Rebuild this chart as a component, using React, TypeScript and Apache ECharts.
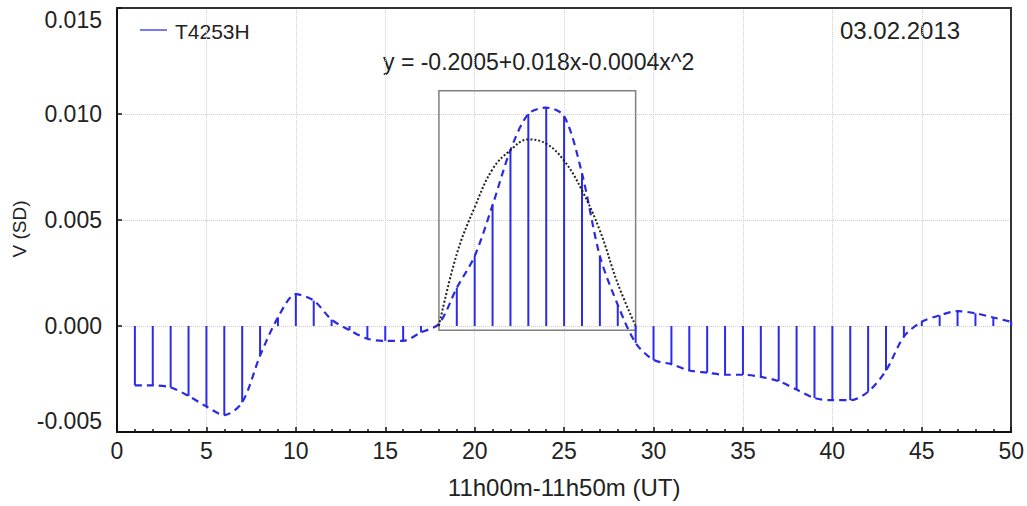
import React, { useEffect, useRef } from "react";
import * as echarts from "echarts";

const xValues: number[] = Array.from({ length: 50 }, (_, i) => i + 1);
const smoothed: number[] = [
  -0.0028, -0.0028, -0.0029, -0.0033, -0.0038, -0.0042, -0.0036, -0.0014, 0.0004, 0.0015,
  0.0012, 0.0003, -0.0002, -0.0006, -0.0007, -0.0007, -0.0003, 0.0001, 0.0018, 0.0033,
  0.0057, 0.0083, 0.0100, 0.0103, 0.0099, 0.0072, 0.0033, 0.0010, -0.0008, -0.0016,
  -0.0018, -0.0021, -0.0022, -0.0023, -0.0023, -0.0024, -0.0026, -0.0030, -0.0034, -0.0035,
  -0.0035, -0.0031, -0.0021, -0.0005, 0.0002, 0.0005, 0.0007, 0.0006, 0.0004, 0.0002,
];
const fitX: number[] = [18, 19, 20, 21, 22, 23, 24, 25, 26, 27, 28, 29];
const fitY: number[] = [0.0, 0.0034, 0.0056, 0.0074, 0.0083, 0.0088, 0.0086, 0.0078, 0.0064, 0.0045, 0.002, 0.0];
const boxX: number[] = [18, 29];
const boxY: number[] = [-0.0002, 0.0111];
const seriesName = "T4253H";
const dateLabel = "03.02.2013";
const equation = "y = -0.2005+0.018x-0.0004x^2";
const xTitle = "11h00m-11h50m (UT)";
const yTitle = "V (SD)";

const FONT = "Liberation Sans, Arial, sans-serif";

export default function App() {
  const ref = useRef<HTMLDivElement>(null);
  useEffect(() => {
    if (!ref.current) return;
    const chart = echarts.init(ref.current, undefined, { renderer: "svg" });
    const pts = xValues.map((x, i) => [x, smoothed[i]]);
    const fit = fitX.map((x, i) => [x, fitY[i]]);
    chart.setOption({
      animation: false,
      backgroundColor: "#fff",
      textStyle: { fontFamily: FONT },
      grid: { left: 117, right: 15, top: 8, bottom: 74 },
      xAxis: [
        {
          type: "value",
          min: 0,
          max: 50,
          interval: 5,
          name: xTitle,
          nameLocation: "middle",
          nameGap: 43,
          nameTextStyle: { fontSize: 24, color: "#222", fontFamily: FONT },
          axisLine: { show: true, onZero: false, lineStyle: { color: "#111", width: 2 } },
          axisTick: { show: true, inside: true, length: 5, lineStyle: { color: "#111", width: 1.5 } },
          minorTick: { show: true, splitNumber: 5, length: 3, lineStyle: { color: "#111", width: 1.5 } },
          axisLabel: { fontSize: 23, color: "#222", margin: 7, fontFamily: FONT },
          splitLine: { show: true, lineStyle: { color: "#cfcfcf", type: "dotted", width: 1 } },
        },
        {
          type: "value",
          position: "top",
          min: 0,
          max: 50,
          interval: 5,
          axisLine: { show: true, onZero: false, lineStyle: { color: "#333", width: 2 } },
          axisTick: { show: false },
          axisLabel: { show: false },
          splitLine: { show: false },
        },
      ],
      yAxis: [
        {
          type: "value",
          min: -0.005,
          max: 0.015,
          interval: 0.005,
          axisLine: { show: true, onZero: false, lineStyle: { color: "#111", width: 2 } },
          axisTick: { show: true, inside: true, length: 5, lineStyle: { color: "#111", width: 1.5 } },
          axisLabel: {
            fontSize: 23,
            color: "#222",
            margin: 15,
            fontFamily: FONT,
            verticalAlignMaxLabel: "top",
            verticalAlignMinLabel: "bottom",
            formatter: (v: number) => v.toFixed(3),
          },
          splitLine: { show: true, lineStyle: { color: "#cfcfcf", type: "dotted", width: 1 } },
        },
        {
          type: "value",
          position: "right",
          min: -0.005,
          max: 0.015,
          interval: 0.005,
          axisLine: { show: true, onZero: false, lineStyle: { color: "#333", width: 2 } },
          axisTick: { show: false },
          axisLabel: { show: false },
          splitLine: { show: false },
        },
      ],
      series: [
        {
          type: "bar",
          name: "sticks",
          data: pts,
          barWidth: 2,
          itemStyle: { color: "#2a2af0" },
          silent: true,
          markArea: {
            silent: true,
            itemStyle: { color: "rgba(0,0,0,0)", borderColor: "#808080", borderWidth: 1.5 },
            data: [[{ coord: [boxX[0], boxY[0]] }, { coord: [boxX[1], boxY[1]] }]],
          },
        },
        {
          type: "line",
          name: seriesName,
          data: pts,
          smooth: 0.3,
          symbol: "none",
          lineStyle: { color: "#2a2ae0", width: 2.2, type: [7, 5] },
          silent: true,
        },
        {
          type: "line",
          name: "fit",
          data: fit,
          smooth: 0.4,
          symbol: "none",
          lineStyle: { color: "#222", width: 2, type: [2, 2] },
          silent: true,
          z: 5,
        },
      ],
      graphic: [
        {
          type: "line",
          shape: { x1: 140, y1: 30, x2: 167, y2: 30 },
          style: { stroke: "#7b7bf0", lineWidth: 2 },
        },
        {
          type: "text",
          x: 175,
          y: 31,
          style: { text: seriesName, fontSize: 21, fill: "#222", fontFamily: FONT, verticalAlign: "middle" },
        },
        {
          type: "text",
          x: 840,
          y: 30,
          style: { text: dateLabel, fontSize: 24, fill: "#222", fontFamily: FONT, verticalAlign: "middle" },
        },
        {
          type: "text",
          x: 383,
          y: 62,
          style: { text: equation, fontSize: 23, fill: "#222", fontFamily: FONT, verticalAlign: "middle" },
        },
        {
          type: "text",
          x: 19,
          y: 229,
          rotation: Math.PI / 2,
          style: {
            text: yTitle,
            fontSize: 19,
            fill: "#222",
            fontFamily: FONT,
            align: "center",
            verticalAlign: "middle",
          },
        },
      ],
    });
    return () => chart.dispose();
  }, []);
  return (
    <div
      ref={ref}
      style={{ position: "fixed", left: 0, top: 0, width: 1027, height: 506, background: "#fff" }}
    />
  );
}
